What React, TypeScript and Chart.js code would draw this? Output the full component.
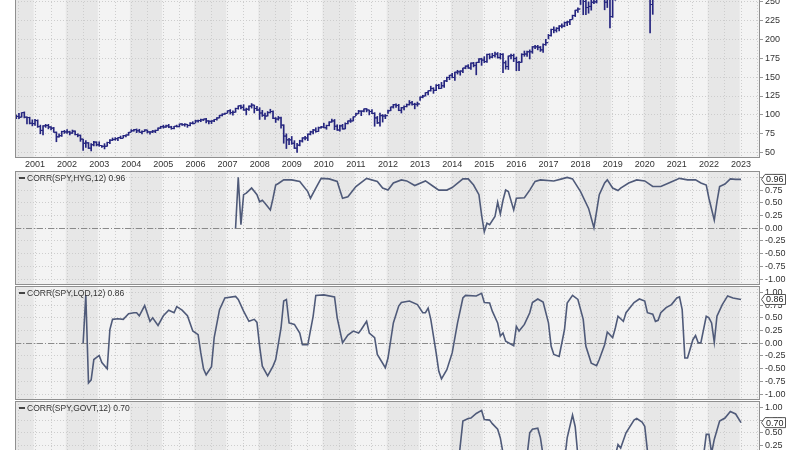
import React, { useEffect, useRef } from 'react';
import { Chart, registerables } from 'chart.js';

Chart.register(...registerables);

// ---------- data ----------
// months are counted from Jan 2000 (0); first bar = Jun 2000
const FIRST_MONTH = 5;
const FIRST_OPEN = 96.5;

// SPY monthly bars (adjusted), Jun 2000 .. Jan 2023
const spyHigh = [
  100, 102, 103, 104, 97.5, 97, 93.5,
  94, 93.5, 86.5, 86, 87.5, 87.5, 84.5, 83.5, 77.5, 75, 78.5, 79.5,
  80.5, 78.5, 80, 79, 75, 73.5, 68, 66, 63.5, 62, 65, 64.5,
  64.5, 59.5, 62, 64, 67.5, 69.5, 70, 70, 72, 73, 73.5, 77,
  80.5, 81, 81.5, 81, 79, 80.5, 80, 78, 79.5, 80, 83, 85,
  86.5, 86.5, 87.5, 85, 85, 86.5, 88, 88.5, 88.5, 87.5, 90, 91,
  93, 93, 94.5, 94.5, 95.5, 92.5, 92.5, 94, 96.5, 99.5, 101.5, 102.5,
  105.5, 107, 105.5, 109, 112, 113, 113.5, 109, 112, 115, 113, 111.5,
  109.5, 106, 102.5, 104.5, 107.5, 105.5, 96.5, 98, 97, 87, 75, 69,
  71.5, 66, 62.5, 66.5, 70, 71.5, 75, 78.5, 81, 83, 84, 85,
  89, 86.5, 91, 94.5, 94, 87, 86.5, 87.5, 89.5, 92, 95, 97.5,
  102.5, 106, 105.5, 108, 108.5, 106.5, 107, 103, 98, 102.5, 100.5, 100.5,
  106.5, 110.5, 114, 114.5, 114, 110, 112, 114.5, 119, 118, 115.5, 117,
  124, 126, 129.5, 132, 138, 136, 140, 140.5, 143, 145.5, 150, 152.5,
  155, 156.5, 159, 158.5, 162, 165, 166.5, 169, 169.5, 169.5, 174.5, 175,
  177, 180.5, 181, 181.5, 183, 182.5, 181.5, 181, 171.5, 178, 180.5, 180.5,
  176.5, 171, 181, 184.5, 184.5, 186, 190.5, 192, 192, 190.5, 194, 200,
  206.5, 213.5, 216.5, 215.5, 218, 220.5, 223, 224, 226, 232, 238.5, 241.5,
  263.5, 263.5, 257.5, 249.5, 252.5, 257, 261.5, 268.5, 270.5, 270, 258.5, 258,
  254.5, 264.5, 268, 277, 277, 278.5, 284, 279.5, 284.5, 286, 296.5, 304.5,
  318, 324, 299.5, 281.5, 293, 309, 312.5, 335.5, 342.5, 334, 348, 361.5,
  374.5, 382.5, 386, 408, 410, 416, 428.5, 439.5, 440.5, 446, 459.5, 464.5,
  473, 451, 455, 451, 418.5, 411, 407, 425, 405.5, 383.5, 401.5, 404.5,
  408,
];
const spyLow = [
  95, 95, 97, 96, 88, 88, 85.5,
  86, 83.5, 75, 73.5, 83.5, 81.5, 80, 77, 64.5, 70.5, 71.5, 75.5,
  75.5, 73.5, 75.5, 73.5, 71, 65, 53, 57, 55.5, 52.5, 59, 59,
  58.5, 57, 55, 58.5, 62, 66, 66.5, 66, 68.5, 69.5, 71, 73,
  77.5, 78.5, 76.5, 77, 75, 78, 76, 74.5, 76.5, 76.5, 79.5, 82,
  82.5, 83.5, 83, 81, 81.5, 84, 84, 86, 85, 83.5, 85.5, 88,
  89.5, 90.5, 91, 92.5, 89.5, 88, 88.5, 91, 93, 96, 98.5, 100.5,
  102.5, 101, 99.5, 103.5, 107.5, 108, 106, 100, 106, 109, 102.5, 105.5,
  94, 98, 94, 98.5, 102.5, 95, 90, 93, 82.5, 62.5, 55.5, 60.5,
  61, 55.5, 50.5, 59, 64, 67, 66, 73.5, 75, 77, 78, 82.5,
  83, 81, 85.5, 90.5, 80.5, 79.5, 78.5, 81, 81.5, 88, 90, 92,
  99, 101.5, 99, 104, 104, 100, 101.5, 85, 88.5, 85, 90.5, 95,
  102, 105.5, 109, 110, 105.5, 102.5, 106.5, 110.5, 113, 113, 108, 111.5,
  119, 122.5, 125, 126.5, 131.5, 128.5, 132, 134.5, 135, 136.5, 144, 146.5,
  149, 145.5, 154, 152.5, 156, 161, 161.5, 160, 163.5, 153, 169, 165.5,
  169, 169.5, 174, 175.5, 176.5, 175, 174, 156, 160.5, 160, 174, 170.5,
  158.5, 158.5, 169.5, 177.5, 177.5, 174, 181.5, 187.5, 186, 184, 182.5, 192,
  200.5, 204, 208.5, 209.5, 211, 215, 216.5, 218, 219.5, 226.5, 230, 235.5,
  246, 232.5, 232.5, 234.5, 238.5, 247, 248, 258, 264, 239, 242, 215,
  229, 251.5, 256, 266, 258.5, 257.5, 275.5, 265, 271, 267.5, 286, 288.5,
  306, 272.5, 208.5, 233, 260, 283.5, 292.5, 310.5, 305.5, 308, 312.5, 345.5,
  357, 359.5, 361, 387, 392, 402, 408.5, 423, 416, 414.5, 441, 435.5,
  414.5, 404.5, 409, 405, 375, 357, 365.5, 389, 351.5, 343, 363, 369,
  377,
];
const spyClose = [
  98, 97, 103, 97, 96.5, 89, 88.5,
  92.5, 84.5, 79.5, 85.5, 86, 84, 82.5, 77, 71, 72.5, 78, 77.5,
  77.5, 76, 78.5, 74, 73, 68, 62.5, 63, 56, 60.5, 64, 60.5,
  59.5, 58.5, 58.5, 63.5, 66.5, 67.5, 68.5, 70, 69, 72.5, 73.5, 77,
  79, 80.5, 79, 77, 78, 80, 77.5, 77.5, 78.5, 79.5, 82.5, 84.5,
  84, 85.5, 84, 82, 85, 84.5, 88, 87, 87.5, 86, 89, 88.5,
  92, 92.5, 93.5, 94.5, 92, 91.5, 92, 94, 96, 99.5, 101, 102,
  105.5, 103, 103.5, 108.5, 112, 110, 106.5, 107.5, 111.5, 113, 108.5, 106.5,
  102.5, 99.5, 98.5, 103, 104.5, 95.5, 94.5, 96, 86.5, 72, 67, 67,
  62.5, 56, 60, 65.5, 69.5, 69.5, 74.5, 77.5, 80, 78, 83, 84,
  83, 86, 90.5, 92, 85, 80, 85.5, 81.5, 88.5, 92, 92, 97.5,
  101.5, 105, 105, 108, 106.5, 104.5, 102, 96, 89.5, 99, 98.5, 99,
  105.5, 110.5, 113.5, 112.5, 106, 109.5, 111, 113.5, 116, 114, 114, 114.5,
  123.5, 125, 129.5, 132, 135, 132.5, 139, 135, 138.5, 145, 149.5, 152.5,
  149.5, 156.5, 157, 158, 162, 164.5, 162, 168.5, 165.5, 169.5, 174, 172.5,
  170.5, 180, 176.5, 178.5, 180.5, 176, 180, 169, 164, 178, 178.5, 174.5,
  169.5, 169.5, 180, 180.5, 183.5, 183.5, 190, 190, 189.5, 186, 193, 195.5,
  205, 213, 212, 214.5, 217.5, 217.5, 222, 223, 226, 231.5, 238.5, 240,
  259.5, 250, 242, 243.5, 249, 249.5, 259, 267, 267.5, 249, 253.5, 230,
  254, 262, 265.5, 276.5, 259, 275.5, 279.5, 275, 279, 285, 295.5, 302.5,
  307, 283, 246, 277.5, 290.5, 294.5, 312, 333.5, 320, 312, 346, 357,
  359, 369, 384.5, 405, 407.5, 415.5, 425.5, 438, 416, 445.5, 442, 460.5,
  443, 430, 445, 406, 406.5, 371.5, 406, 389, 352, 380.5, 401.5, 376.5,
  406.5,
];

const yearLabels = [
  '2001', '2002', '2003', '2004', '2005', '2006', '2007', '2008', '2009', '2010', '2011', '2012',
  '2013', '2014', '2015', '2016', '2017', '2018', '2019', '2020', '2021', '2022', '2023',
];
const priceTicks = [50, 75, 100, 125, 150, 175, 200, 225, 250, 275, 300, 325, 350, 375, 400, 425, 450, 475];
const corrTicks = [-1, -0.75, -0.5, -0.25, 0, 0.25, 0.5, 0.75, 1];

// [month, 12-month correlation]
const hygCorr: [number, number][] = [
  [87, 0], [88, 1], [89, 0.07], [90, 0.66], [91, 0.69], [93, 0.79], [95, 0.66], [96, 0.52], [97, 0.55], [98, 0.49],
  [100, 0.36], [101, 0.59], [102, 0.85], [103, 0.88], [105, 0.95], [108, 0.95], [111, 0.92], [114, 0.72], [115, 0.59],
  [117, 0.79], [119, 0.98], [122, 0.97], [125, 0.92], [126, 0.75], [127, 0.59], [129, 0.62], [132, 0.82], [136, 0.98],
  [140, 0.92], [142, 0.79], [144, 0.75], [146, 0.89], [149, 0.95], [151, 0.93], [154, 0.84], [158, 0.93], [161, 0.82],
  [163, 0.75], [166, 0.75], [168, 0.8], [172, 0.97], [174, 0.97], [176, 0.85], [178, 0.66], [179, 0.26], [180, -0.07],
  [181, 0.1], [182, 0.07], [184, 0.23], [185, 0.51], [186, 0.28], [187, 0.55], [188, 0.75], [189, 0.72], [191, 0.36],
  [192, 0.59], [195, 0.6], [197, 0.75], [199, 0.92], [201, 0.95], [206, 0.93], [209, 0.97], [211, 1], [213, 0.97],
  [216, 0.72], [219, 0.39], [221, 0.01], [222, 0.33], [223, 0.66], [225, 0.89], [226, 0.95], [228, 0.79], [230, 0.74],
  [231, 0.79], [234, 0.89], [237, 0.95], [240, 0.93], [243, 0.82], [246, 0.82], [249, 0.89], [253, 0.98], [256, 0.95],
  [259, 0.95], [261, 0.89], [263, 0.85], [264, 0.59], [266, 0.16], [267, 0.52], [268, 0.82], [270, 0.87], [272, 0.97],
  [274, 0.96], [276, 0.96],
];
const lqdCorr: [number, number][] = [
  [30, 0], [31, 0.95], [32, -0.78], [33, -0.72], [34, -0.32], [36, -0.24], [37, -0.38], [39, -0.5], [40, 0.27],
  [41, 0.47], [43, 0.48], [45, 0.47], [47, 0.58], [49, 0.6], [50, 0.6], [51, 0.54], [53, 0.74], [55, 0.43], [56, 0.5],
  [58, 0.35], [60, 0.54], [62, 0.65], [64, 0.6], [65, 0.72], [67, 0.65], [69, 0.54], [71, 0.24], [73, 0.17],
  [74, -0.19], [75, -0.5], [76, -0.62], [78, -0.46], [79, 0.11], [81, 0.66], [83, 0.89], [87, 0.92], [88, 0.86],
  [90, 0.63], [92, 0.43], [94, 0.47], [95, 0.41], [96, -0.06], [97, -0.45], [99, -0.64], [101, -0.45], [102, -0.32],
  [104, 0.3], [105, 0.83], [106, 0.86], [107, 0.4], [109, 0.37], [111, 0.2], [112, -0.03], [114, -0.03], [116, 0.53],
  [117, 0.94], [120, 0.95], [124, 0.91], [125, 0.5], [127, 0.01], [129, 0.16], [131, 0.24], [133, 0.2], [134, 0.27],
  [136, 0.43], [137, 0.2], [139, 0.11], [140, -0.22], [143, -0.48], [144, -0.29], [146, 0.4], [148, 0.73], [149, 0.8],
  [152, 0.83], [155, 0.76], [157, 0.6], [158, 0.6], [159, 0.69], [160, 0.47], [162, -0.19], [163, -0.55], [164, -0.7],
  [166, -0.52], [168, -0.19], [170, 0.4], [172, 0.89], [173, 0.94], [177, 0.93], [179, 0.98], [180, 0.8], [182, 0.79],
  [183, 0.63], [185, 0.4], [186, 0.14], [187, 0.2], [188, 0.04], [191, -0.05], [192, 0.33], [193, 0.24], [195, 0.37],
  [197, 0.6], [198, 0.8], [200, 0.87], [202, 0.81], [204, 0.4], [205, -0.06], [206, -0.22], [208, -0.26], [210, 0.27],
  [211, 0.79], [213, 0.94], [215, 0.86], [217, 0.47], [218, -0.06], [220, -0.39], [222, -0.44], [223, -0.32],
  [225, -0.03], [226, 0.22], [228, 0.11], [229, 0.3], [230, 0.53], [232, 0.43], [233, 0.6], [236, 0.8], [238, 0.87],
  [240, 0.83], [241, 0.6], [243, 0.57], [244, 0.43], [245, 0.45], [246, 0.6], [248, 0.7], [250, 0.76], [252, 0.89],
  [253, 0.91], [254, 0.66], [255, -0.29], [256, -0.29], [258, 0.07], [259, 0.15], [260, 0.01], [261, 0.01], [263, 0.53],
  [264, 0.5], [265, 0.4], [266, 0.02], [267, 0.53], [269, 0.76], [271, 0.93], [273, 0.89], [276, 0.86],
];
const govtCorr: [number, number][] = [
  [146, -0.6], [152, -0.45], [158, -0.7], [165, -0.55], [170, -0.25], [172, 0.73], [174, 0.78], [175, 0.79],
  [177, 0.88], [179, 0.94], [180, 0.76], [182, 0.75], [183, 0.68], [185, 0.57], [186, 0.4], [187, 0.1], [188, -0.3],
  [192, -0.6], [196, 0.05], [197, 0.5], [198, 0.57], [200, 0.59], [201, 0.4], [202, 0.05], [203, -0.4], [207, -0.6],
  [210, -0.05], [211, 0.4], [213, 0.85], [214, 0.62], [215, 0.05], [216, -0.4], [223, -0.6], [229, 0.05], [230, 0.27],
  [231, 0.2], [233, 0.5], [236, 0.75], [237, 0.78], [239, 0.71], [240, 0.63], [241, 0.15], [242, -0.3], [250, -0.5],
  [258, -0.4], [262, 0.05], [263, 0.47], [264, 0.47], [265, 0.1], [266, 0.37], [268, 0.73], [270, 0.79], [272, 0.92],
  [274, 0.87], [276, 0.7],
];

// ---------- styles ----------
const FONT = '"Liberation Sans", Arial, sans-serif';
const TEXT = '#333333';
const NAVY = '#25257f';
const LINE = '#4f5a79';
const BAND_LIGHT = '#f3f3f3';
const BAND_DARK = '#e7e7e7';
const GRID = '#cdcdcd';
const FRAME = '#8f8f8f';
const X_MIN = 4.52;
const X_MAX = 283.1;

const gridMonths: number[] = [];
for (let m = 6; m <= 282; m += 6) gridMonths.push(m);

const backdrop = {
  id: 'backdrop',
  beforeDraw(chart: any) {
    const { ctx, chartArea: a } = chart;
    const x = chart.scales.x;
    ctx.save();
    ctx.fillStyle = BAND_LIGHT;
    ctx.fillRect(a.left, a.top, a.right - a.left, a.bottom - a.top);
    ctx.beginPath();
    ctx.rect(a.left, a.top, a.right - a.left, a.bottom - a.top);
    ctx.clip();
    ctx.fillStyle = BAND_DARK;
    for (let yr = 0; yr <= 24; yr += 2) {
      const x0 = x.getPixelForValue(yr * 12 - 0.5);
      const x1 = x.getPixelForValue(yr * 12 + 11.5);
      ctx.fillRect(x0, a.top, x1 - x0, a.bottom - a.top);
    }
    ctx.restore();
  },
};

const frame = {
  id: 'frame',
  afterDraw(chart: any) {
    const { ctx, chartArea: a } = chart;
    ctx.save();
    ctx.strokeStyle = FRAME;
    ctx.lineWidth = 1;
    ctx.strokeRect(Math.round(a.left) + 0.5, Math.round(a.top) + 0.5, Math.round(a.right - a.left) - 1, Math.round(a.bottom - a.top) - 1);
    ctx.restore();
  },
};

const zeroLine = {
  id: 'zeroLine',
  beforeDatasetsDraw(chart: any) {
    const { ctx, chartArea: a } = chart;
    const y = Math.round(chart.scales.y.getPixelForValue(0)) + 0.5;
    ctx.save();
    ctx.strokeStyle = '#8a8a8a';
    ctx.lineWidth = 1;
    ctx.setLineDash([6, 2, 1, 2]);
    ctx.beginPath();
    ctx.moveTo(a.left, y);
    ctx.lineTo(a.right, y);
    ctx.stroke();
    ctx.restore();
  },
};

const corrLabel = {
  id: 'corrLabel',
  afterDraw(chart: any, _args: any, opts: any) {
    const { ctx, chartArea: a } = chart;
    const last: number = opts.last;
    const valText = last.toFixed(2);
    ctx.save();
    // legend
    ctx.strokeStyle = '#444';
    ctx.lineWidth = 2;
    ctx.beginPath();
    ctx.moveTo(a.left + 4, a.top + 7);
    ctx.lineTo(a.left + 10, a.top + 7);
    ctx.stroke();
    ctx.fillStyle = TEXT;
    ctx.font = `8.5px ${FONT}`;
    ctx.textAlign = 'left';
    ctx.textBaseline = 'middle';
    ctx.fillText(`${opts.name} ${valText}`, a.left + 12, a.top + 7.5);
    // value tag on the axis
    const yv = chart.scales.y.getPixelForValue(last);
    const r = a.right;
    ctx.beginPath();
    ctx.moveTo(r + 1.5, yv);
    ctx.lineTo(r + 5, yv - 5);
    ctx.lineTo(r + 25.5, yv - 5);
    ctx.lineTo(r + 25.5, yv + 5);
    ctx.lineTo(r + 5, yv + 5);
    ctx.closePath();
    ctx.fillStyle = '#ffffff';
    ctx.fill();
    ctx.strokeStyle = '#555';
    ctx.lineWidth = 1;
    ctx.stroke();
    ctx.fillStyle = '#222';
    ctx.font = `9px ${FONT}`;
    ctx.fillText(valText, r + 6, yv + 0.5);
    ctx.restore();
  },
};

function xScale(showLabels: boolean, height: number) {
  return {
    type: 'linear',
    min: X_MIN,
    max: X_MAX,
    offset: false,
    afterBuildTicks: (s: any) => {
      s.ticks = gridMonths.map((v) => ({ value: v }));
    },
    afterFit: (s: any) => {
      s.height = height;
      s.paddingLeft = 0;
      s.paddingRight = 0;
    },
    ticks: {
      display: showLabels,
      autoSkip: false,
      maxRotation: 0,
      padding: 1,
      color: TEXT,
      font: { family: FONT, size: 9 },
      callback: (v: number) => (v % 12 === 0 ? yearLabels[v / 12 - 1] ?? '' : ''),
    },
    grid: { color: GRID, lineWidth: 1, drawTicks: false, offset: false },
    border: { display: false, dash: [1, 2] },
  };
}

function yScale(min: number, max: number, ticks: number[], fmt: (v: number) => string) {
  return {
    position: 'right',
    min,
    max,
    afterBuildTicks: (s: any) => {
      s.ticks = ticks.map((v) => ({ value: v }));
    },
    afterFit: (s: any) => {
      s.width = 40;
      s.paddingTop = 0;
      s.paddingBottom = 0;
    },
    ticks: {
      autoSkip: false,
      padding: 2,
      color: TEXT,
      font: { family: FONT, size: 9 },
      callback: (v: number) => fmt(v),
    },
    grid: { color: GRID, lineWidth: 1, drawTicks: true, tickLength: 3, tickColor: '#999' },
    border: { display: false, dash: [1, 2] },
  };
}

function priceConfig(): any {
  const ranges = spyHigh.map((h, k) => ({ x: FIRST_MONTH + k, y: [spyLow[k], h] }));
  const opens = spyClose.map((_c, k) => ({ x: FIRST_MONTH + k - 0.4, y: k === 0 ? FIRST_OPEN : spyClose[k - 1] }));
  const closes = spyClose.map((c, k) => ({ x: FIRST_MONTH + k + 0.4, y: c }));
  const tickStyle = {
    type: 'line',
    showLine: false,
    pointStyle: 'line',
    pointRadius: 1,
    pointBorderColor: NAVY,
    pointBorderWidth: 1,
    borderColor: NAVY,
  };
  return {
    type: 'bar',
    data: {
      datasets: [
        { type: 'bar', data: ranges, backgroundColor: NAVY, barThickness: 1, borderWidth: 0 },
        { ...tickStyle, data: opens },
        { ...tickStyle, data: closes },
      ],
    },
    options: {
      animation: false,
      responsive: false,
      events: [],
      layout: { padding: { top: 6, left: 15, right: 0, bottom: 0 } },
      plugins: { legend: { display: false }, tooltip: { enabled: false } },
      scales: {
        x: xScale(true, 12),
        y: yScale(43, 475.5, priceTicks, (v) => String(v)),
      },
    },
    plugins: [backdrop, frame],
  };
}

function corrConfig(name: string, series: [number, number][]): any {
  return {
    type: 'line',
    data: {
      datasets: [
        {
          data: series.map(([m, v]) => ({ x: m, y: v })),
          borderColor: LINE,
          borderWidth: 1.6,
          pointRadius: 0,
          tension: 0,
          fill: false,
        },
      ],
    },
    options: {
      animation: false,
      responsive: false,
      events: [],
      layout: { padding: { top: 6, left: 15, right: 0, bottom: 0 } },
      plugins: {
        legend: { display: false },
        tooltip: { enabled: false },
        corrLabel: { name, last: series[series.length - 1][1] },
      },
      scales: {
        x: xScale(false, 1),
        y: yScale(-1.115, 1.125, corrTicks, (v) => v.toFixed(2)),
      },
    },
    plugins: [backdrop, zeroLine, frame, corrLabel],
  };
}

function Panel({ top, height, make }: { top: number; height: number; make: () => any }) {
  const ref = useRef<HTMLCanvasElement>(null);
  useEffect(() => {
    const chart = new Chart(ref.current as HTMLCanvasElement, make());
    return () => chart.destroy();
  }, []);
  return (
    <canvas
      ref={ref}
      width={800}
      height={height}
      style={{ position: 'absolute', left: 0, top, width: 800, height, display: 'block' }}
    />
  );
}

export default function App() {
  return (
    <div
      style={{
        position: 'fixed',
        left: 0,
        top: 0,
        width: 800,
        height: 450,
        overflow: 'hidden',
        background: '#ffffff',
      }}
    >
      <Panel top={-175} height={345} make={priceConfig} />
      <Panel top={165} height={121} make={() => corrConfig('CORR(SPY,HYG,12)', hygCorr)} />
      <Panel top={280} height={121} make={() => corrConfig('CORR(SPY,LQD,12)', lqdCorr)} />
      <Panel top={395} height={121} make={() => corrConfig('CORR(SPY,GOVT,12)', govtCorr)} />
    </div>
  );
}
